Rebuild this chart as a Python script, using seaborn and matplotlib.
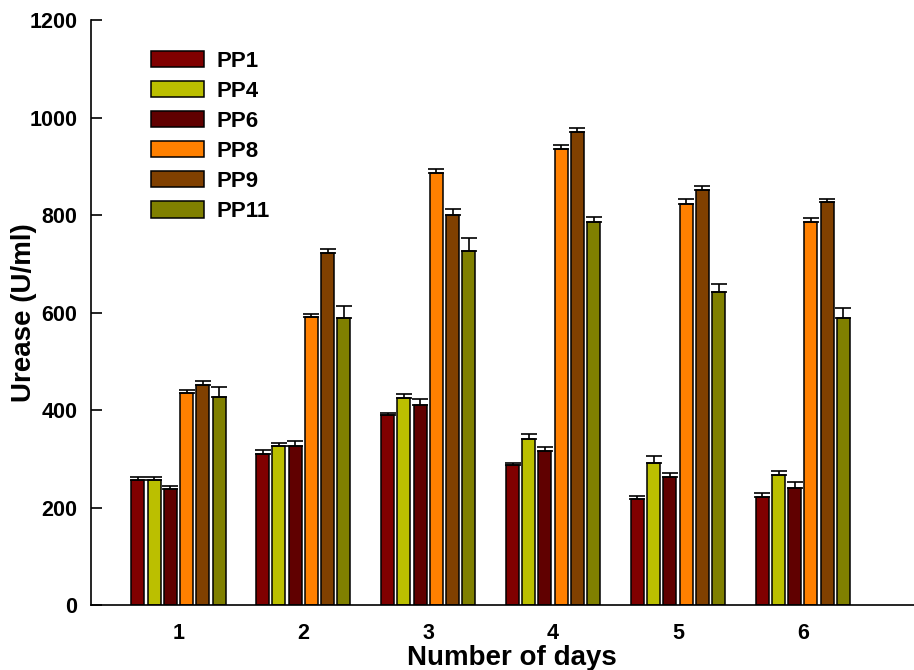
import matplotlib
matplotlib.use('Agg')
import matplotlib.pyplot as plt
import numpy as np
import pandas as pd
import seaborn as sns

# Urease activity per isolate over six days
days = ['1', '2', '3', '4', '5', '6']
strains = ['PP1', 'PP4', 'PP6', 'PP8', 'PP9', 'PP11']
colors = ['#800000', '#BBBF00', '#600000', '#FF8000', '#804000', '#808000']

pp1 = [256, 309, 390, 287, 217, 222]
pp4 = [256, 327, 424, 341, 291, 266]
pp6 = [237, 326, 410, 316, 262, 241]
pp8 = [435, 590, 886, 935, 822, 786]
pp9 = [451, 722, 801, 970, 851, 826]
pp11 = [427, 589, 727, 786, 643, 588]

pp1_err = [6, 8, 4, 4, 7, 8]
pp4_err = [6, 6, 8, 10, 15, 9]
pp6_err = [7, 10, 12, 9, 9, 12]
pp8_err = [6, 7, 8, 8, 10, 7]
pp9_err = [8, 8, 12, 8, 8, 7]
pp11_err = [21, 24, 25, 10, 15, 21]

values = [pp1, pp4, pp6, pp8, pp9, pp11]
errors = [pp1_err, pp4_err, pp6_err, pp8_err, pp9_err, pp11_err]

rows = []
for s, vals, errs in zip(strains, values, errors):
    for d, v, e in zip(days, vals, errs):
        rows.append({'day': d, 'strain': s, 'urease': v, 'err': e})
df = pd.DataFrame(rows)

sns.set_style('white')
plt.rcParams['font.family'] = ['Liberation Sans', 'DejaVu Sans']
plt.rcParams['font.weight'] = 'bold'
plt.rcParams['axes.labelweight'] = 'bold'
plt.rcParams['text.color'] = 'black'
plt.rcParams['axes.labelcolor'] = 'black'
plt.rcParams['xtick.color'] = 'black'
plt.rcParams['ytick.color'] = 'black'

fig = plt.figure(figsize=(9.14, 6.70), dpi=100)
ax = fig.add_axes([0.0996, 0.097, 0.9004, 0.873])

sns.barplot(data=df, x='day', y='urease', hue='strain', order=days,
            hue_order=strains, palette=colors, width=0.78, gap=0.2,
            edgecolor='black', linewidth=1.1, errorbar=None, legend=False,
            saturation=1, ax=ax)

bar_containers = list(ax.containers)
for cont, s in zip(bar_containers, strains):
    sub = df[df['strain'] == s].set_index('day').loc[days]
    xs = [p.get_x() + p.get_width() / 2 for p in cont.patches]
    hs = [p.get_height() for p in cont.patches]
    ax.errorbar(xs, hs, yerr=[np.zeros(len(xs)), sub['err'].values],
                fmt='none', ecolor='black', elinewidth=1.2, capsize=5.5,
                capthick=1.2, zorder=3)

ax.legend(bar_containers, strains, loc='upper left', frameon=False,
          bbox_to_anchor=(0.049, 0.982), handlelength=2.35,
          handleheight=0.75, handletextpad=0.6, labelspacing=0.41,
          prop={'weight': 'bold', 'size': 16})

ax.set_ylim(0, 1200)
ax.set_xlim(-0.7, 5.89)
ax.set_yticks([0, 200, 400, 600, 800, 1000, 1200])
ax.set_xlabel('Number of days', fontsize=20, fontweight='bold')
ax.set_ylabel('Urease (U/ml)', fontsize=20, fontweight='bold')
ax.xaxis.set_label_coords(0.5115, -0.068)
ax.yaxis.set_label_coords(-0.0656, 0.5)
ax.tick_params(axis='y', direction='in', length=8, width=1.2, labelsize=15.5, pad=10, left=True)
ax.tick_params(axis='x', length=0, labelsize=15.5, pad=13)
for lab in ax.get_xticklabels() + ax.get_yticklabels():
    lab.set_fontweight('bold')

ax.spines['top'].set_visible(False)
ax.spines['right'].set_visible(False)
ax.spines['left'].set_color('black')
ax.spines['bottom'].set_color('black')
ax.spines['left'].set_linewidth(1.2)
ax.spines['bottom'].set_linewidth(1.2)

fig.savefig('out.png', dpi=100)
